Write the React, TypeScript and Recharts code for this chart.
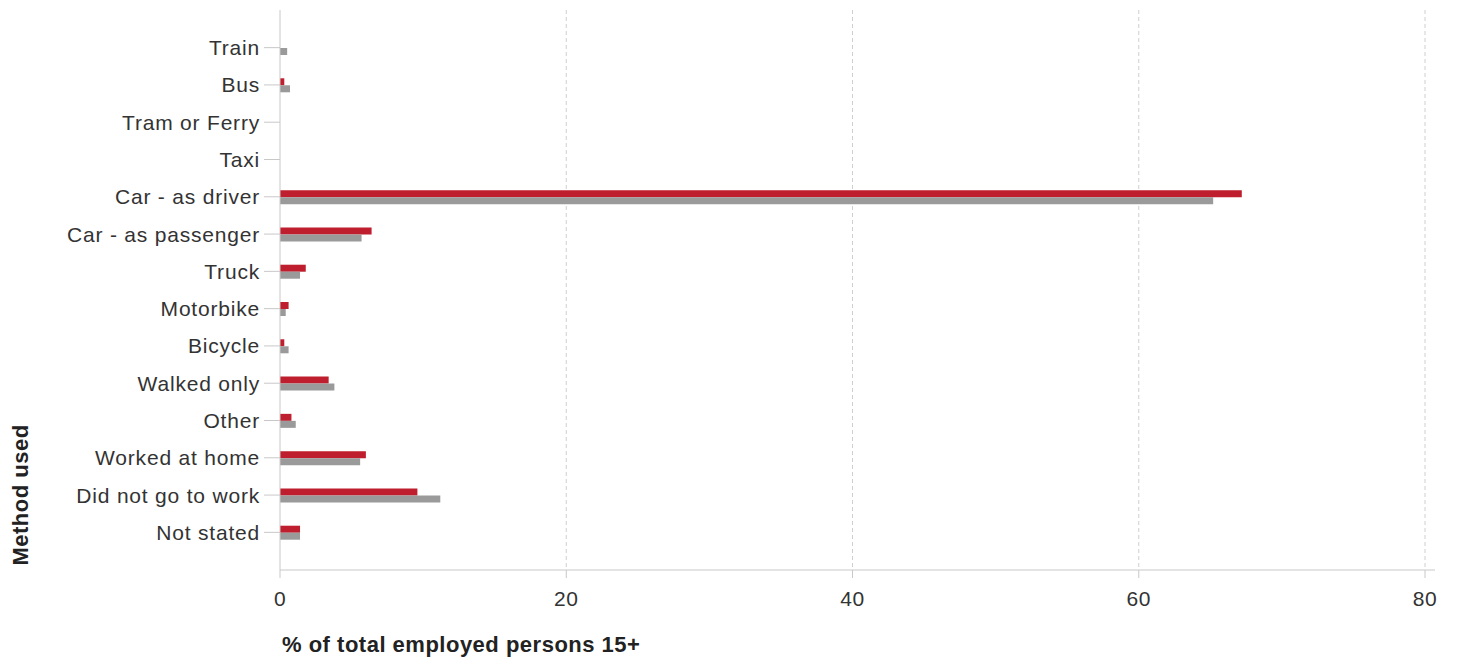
import { BarChart, Bar, XAxis, YAxis, CartesianGrid } from "recharts";

document.body.style.margin = "0";

const categories = [
  "Train",
  "Bus",
  "Tram or Ferry",
  "Taxi",
  "Car - as driver",
  "Car - as passenger",
  "Truck",
  "Motorbike",
  "Bicycle",
  "Walked only",
  "Other",
  "Worked at home",
  "Did not go to work",
  "Not stated",
];

const areaValues = [0, 0.3, 0, 0, 67.2, 6.4, 1.8, 0.6, 0.3, 3.4, 0.8, 6.0, 9.6, 1.4];
const compareValues = [0.5, 0.7, 0, 0, 65.2, 5.7, 1.4, 0.4, 0.6, 3.8, 1.1, 5.6, 11.2, 1.4];

const xTicks = [0, 20, 40, 60, 80];

const data = categories.map((name, i) => ({
  name,
  area: areaValues[i],
  compare: compareValues[i],
}));

const font = "'Liberation Sans', Arial, sans-serif";

export default function App() {
  return (
    <div style={{ fontFamily: font }}>
      <BarChart
        width={1457}
        height={662}
        data={data}
        layout="vertical"
        margin={{ top: 10, right: 22, left: 0, bottom: 62 }}
        barGap={0}
        barSize={7}
      >
        <CartesianGrid
          horizontal={false}
          vertical
          stroke="#cfcfcf"
          strokeDasharray="4 3"
          verticalValues={[20, 40, 60, 80]}
        />
        <XAxis
          type="number"
          domain={[0, 80]}
          ticks={xTicks}
          padding={{ left: 0, right: 10 }}
          axisLine={{ stroke: "#c8c8c8" }}
          tickLine={{ stroke: "#c8c8c8" }}
          tickSize={8}
          tickMargin={13}
          height={30}
          tick={{ fill: "#333", fontSize: 21, fontFamily: font, letterSpacing: 0.5 }}
          label={{
            content: () => (
              <text
                x={282}
                y={652}
                fill="#222"
                fontSize={22}
                fontWeight="bold"
                fontFamily={font}
                letterSpacing={0.5}
              >
                % of total employed persons 15+
              </text>
            ),
          }}
        />
        <YAxis
          type="category"
          dataKey="name"
          width={280}
          padding={{ top: 19, bottom: 19 }}
          axisLine={{ stroke: "#c8c8c8" }}
          tickLine={{ stroke: "#c8c8c8" }}
          tickSize={16}
          tickMargin={4}
          interval={0}
          tick={{ fill: "#333", fontSize: 21, fontFamily: font, letterSpacing: 0.8 }}
          label={{
            content: () => (
              <text
                x={28}
                y={495}
                fill="#222"
                fontSize={22}
                fontWeight="bold"
                fontFamily={font}
                letterSpacing={0.5}
                textAnchor="middle"
                transform="rotate(-90 28 495)"
              >
                Method used
              </text>
            ),
          }}
        />
        <Bar dataKey="area" fill="#be1e2d" isAnimationActive={false} />
        <Bar dataKey="compare" fill="#9a9a9a" isAnimationActive={false} />
      </BarChart>
    </div>
  );
}
